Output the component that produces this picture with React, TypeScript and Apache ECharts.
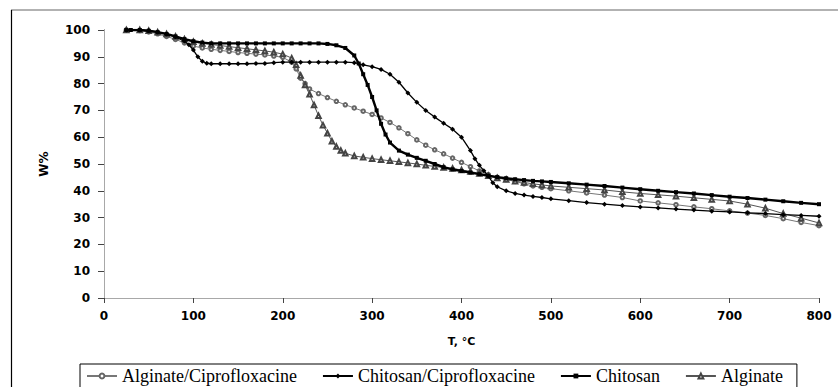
import React, { useEffect, useRef } from "react";
import * as echarts from "echarts";

const xTicks = { min: 0, max: 800, interval: 100 };
const yTicks = { min: 0, max: 100, interval: 10 };
const seriesNames = ["Alginate/Ciprofloxacine", "Chitosan/Ciprofloxacine", "Chitosan", "Alginate"];

const alginateCipro: [number, number][] = [
  [25, 100], [40, 99.8], [50, 99.3], [60, 98.6], [70, 97.6], [80, 96.5], [90, 95.2], [100, 94], [110, 93.3],
  [120, 92.8], [130, 92.4], [140, 92], [150, 91.6], [160, 91.3], [170, 91], [180, 90.7], [190, 90.3], [200, 89.8],
  [210, 88], [215, 85.5], [220, 82], [225, 80], [230, 78], [240, 76.3], [250, 74.8], [260, 73.4], [270, 72.1],
  [280, 70.9], [290, 69.7], [300, 68.5], [310, 67.2], [320, 65.5], [330, 63.5], [340, 61.3], [350, 59], [360, 57],
  [370, 55.3], [380, 53.8], [390, 52.2], [400, 50.6], [410, 49], [420, 47.4], [430, 46], [440, 45], [450, 44.2],
  [460, 43.5], [470, 42.6], [480, 41.8], [490, 41.3], [500, 40.8], [520, 40], [540, 39.2], [560, 38.4], [580, 37.5],
  [600, 36.2], [620, 35.5], [640, 34.8], [660, 34], [680, 33.3], [700, 32.5], [720, 31.7], [740, 30.8], [760, 29.6],
  [780, 28.2], [800, 27]
];

const chitosanCipro: [number, number][] = [
  [25, 100], [40, 100], [50, 99.8], [60, 99.3], [70, 98.5], [80, 97.4], [90, 95.8], [95, 94.5], [100, 92.5],
  [105, 90], [110, 88.3], [115, 87.6], [120, 87.4], [130, 87.4], [140, 87.4], [150, 87.4], [160, 87.4], [170, 87.5],
  [180, 87.5], [190, 87.8], [200, 88], [210, 88], [220, 88], [230, 88], [240, 88], [250, 88], [260, 88], [270, 88],
  [280, 87.8], [290, 87], [300, 86.3], [310, 85.3], [320, 83.5], [330, 80.5], [340, 76.5], [350, 73], [360, 70],
  [370, 67.5], [380, 65.2], [390, 63], [400, 60], [410, 55], [415, 52], [420, 49.5], [425, 47.5], [430, 45.5],
  [435, 43], [440, 41.5], [450, 40], [460, 39], [470, 38.4], [480, 37.9], [490, 37.5], [500, 37], [520, 36.3],
  [540, 35.6], [560, 35], [580, 34.5], [600, 34], [620, 33.6], [640, 33.2], [660, 32.8], [680, 32.4], [700, 32.1],
  [720, 31.8], [740, 31.5], [760, 31.1], [780, 30.8], [800, 30.5]
];

const chitosan: [number, number][] = [
  [25, 100], [30, 100], [40, 100], [50, 99.7], [60, 99.2], [70, 98.5], [80, 97.6], [90, 96.6], [100, 95.8],
  [110, 95.3], [120, 95], [130, 95], [140, 95], [150, 95], [160, 95], [170, 95], [180, 95], [190, 95], [200, 95],
  [210, 95], [220, 95], [230, 95], [240, 95], [250, 94.8], [260, 94.3], [270, 93.3], [280, 90.5], [285, 87.5],
  [290, 83.5], [295, 79.5], [300, 75], [305, 70], [310, 65], [315, 61], [320, 58], [330, 55], [340, 53.5],
  [350, 52.3], [360, 51.2], [370, 50], [380, 48.8], [390, 48], [400, 47.4], [410, 46.8], [420, 46.2], [430, 45.6],
  [440, 45.1], [450, 44.7], [460, 44.3], [470, 44], [480, 43.7], [490, 43.5], [500, 43.3], [520, 42.8], [540, 42.3],
  [560, 41.8], [580, 41.2], [600, 40.6], [620, 40], [640, 39.5], [660, 39], [680, 38.4], [700, 37.8], [720, 37.3],
  [740, 36.7], [760, 36.1], [780, 35.5], [800, 35]
];

const alginate: [number, number][] = [
  [25, 100], [40, 100], [50, 99.7], [60, 99.2], [70, 98.5], [80, 97.6], [90, 96.6], [100, 95.6], [110, 95],
  [120, 94.6], [130, 94.2], [140, 93.8], [150, 93.4], [160, 93], [170, 92.6], [180, 92.2], [190, 91.7], [200, 91],
  [210, 89.5], [215, 87], [220, 83], [225, 79.5], [230, 76], [235, 72], [240, 68], [245, 64.5], [250, 61.5],
  [255, 58.5], [260, 56.5], [265, 55], [270, 54], [280, 53], [290, 52.5], [300, 52], [310, 51.6], [320, 51.2],
  [330, 50.8], [340, 50.4], [350, 50], [360, 49.5], [370, 49.1], [380, 48.7], [390, 48.3], [400, 47.8], [410, 47.2],
  [420, 46.5], [430, 45.6], [440, 44.8], [450, 44.2], [460, 43.6], [470, 43.1], [480, 42.6], [490, 42.2],
  [500, 41.8], [520, 41.3], [540, 40.8], [560, 40.3], [580, 39.6], [600, 39], [620, 38.5], [640, 38], [660, 37.4],
  [680, 36.8], [700, 36.2], [720, 35], [740, 33.5], [760, 31.5], [780, 29.8], [800, 28]
];

export default function App() {
  const ref = useRef<HTMLDivElement>(null);
  useEffect(() => {
    if (!ref.current) return;
    const chart = echarts.init(ref.current, null, { renderer: "svg" });
    const axisColor = "#444";
    const borderColor = "#a8a8a8";
    const sansBold = { fontFamily: "DejaVu Sans", fontWeight: "bold" as const, color: "#000" };
    chart.setOption({
      animation: false,
      backgroundColor: "#fff",
      grid: { left: 104, top: 30, right: 19, bottom: 89, containLabel: false },
      graphic: [
        { type: "line", shape: { x1: 11, y1: 10, x2: 838, y2: 10 }, style: { stroke: "#999", lineWidth: 1.5 }, z: 0 },
        { type: "line", shape: { x1: 11.5, y1: 10, x2: 11.5, y2: 387 }, style: { stroke: "#000", lineWidth: 1.2 }, z: 0 }
      ],
      legend: {
        data: seriesNames,
        left: 80,
        top: 364,
        orient: "horizontal",
        padding: [3, 14, 3, 6],
        itemWidth: 30,
        itemHeight: 6,
        itemGap: 25,
        borderColor: "#000",
        borderWidth: 1,
        borderRadius: 0,
        textStyle: { fontFamily: "Liberation Serif", fontSize: 18, lineHeight: 18, color: "#000" }
      },
      xAxis: [
        {
          type: "value",
          min: xTicks.min,
          max: xTicks.max,
          interval: xTicks.interval,
          name: "T, °C",
          nameLocation: "middle",
          nameGap: 38,
          nameTextStyle: { ...sansBold, fontSize: 11 },
          axisLine: { show: true, lineStyle: { color: axisColor, width: 1 } },
          axisTick: { show: true, length: 5, lineStyle: { color: axisColor } },
          axisLabel: { ...sansBold, fontSize: 12, margin: 12 },
          splitLine: { show: false }
        },
        {
          type: "value",
          position: "top",
          min: xTicks.min,
          max: xTicks.max,
          axisLine: { show: true, lineStyle: { color: borderColor, width: 1 } },
          axisTick: { show: false },
          axisLabel: { show: false },
          splitLine: { show: false }
        }
      ],
      yAxis: [
        {
          type: "value",
          min: yTicks.min,
          max: yTicks.max,
          interval: yTicks.interval,
          name: "W%",
          nameLocation: "middle",
          nameGap: 54,
          nameRotate: 90,
          nameTextStyle: { ...sansBold, fontSize: 12 },
          axisLine: { show: true, lineStyle: { color: axisColor, width: 1 } },
          axisTick: { show: true, length: 6, lineStyle: { color: axisColor } },
          axisLabel: { ...sansBold, fontSize: 12, margin: 14 },
          splitLine: { show: false }
        },
        {
          type: "value",
          position: "right",
          min: yTicks.min,
          max: yTicks.max,
          axisLine: { show: true, lineStyle: { color: borderColor, width: 1 } },
          axisTick: { show: false },
          axisLabel: { show: false },
          splitLine: { show: false }
        }
      ],
      series: [
        {
          name: seriesNames[0],
          type: "line",
          data: alginateCipro,
          symbol: "emptyCircle",
          symbolSize: 3.5,
          showAllSymbol: true,
          lineStyle: { color: "#777", width: 1 },
          itemStyle: { color: "#666", borderWidth: 1 },
          z: 3
        },
        {
          name: seriesNames[1],
          type: "line",
          data: chitosanCipro,
          symbol: "diamond",
          symbolSize: 5,
          showAllSymbol: true,
          lineStyle: { color: "#000", width: 1.3 },
          itemStyle: { color: "#000" },
          z: 4
        },
        {
          name: seriesNames[2],
          type: "line",
          data: chitosan,
          symbol: "rect",
          symbolSize: 4,
          showAllSymbol: true,
          lineStyle: { color: "#000", width: 2.4 },
          itemStyle: { color: "#000" },
          z: 5
        },
        {
          name: seriesNames[3],
          type: "line",
          data: alginate,
          symbol: "emptyTriangle",
          symbolSize: 4.5,
          showAllSymbol: true,
          lineStyle: { color: "#555", width: 1 },
          itemStyle: { color: "#444", borderWidth: 1 },
          z: 3
        }
      ]
    });
    return () => chart.dispose();
  }, []);
  return <div ref={ref} style={{ width: 838, height: 387, position: "absolute", left: 0, top: 0 }} />;
}
